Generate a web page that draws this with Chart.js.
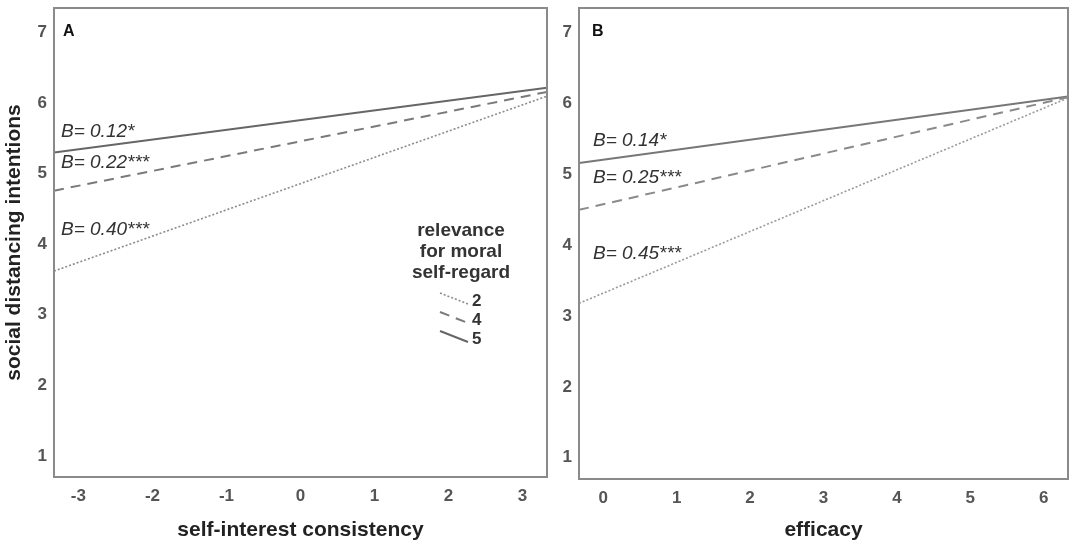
<!DOCTYPE html>
<html>
<head>
<meta charset="utf-8">
<script src="https://cdn.jsdelivr.net/npm/chart.js@4.4.1/dist/chart.umd.min.js"></script>
<style>
  html, body { margin: 0; padding: 0; background: #fff; }
  #wrap { position: relative; width: 1084px; height: 553px; overflow: hidden; }
  canvas { position: absolute; top: 0; }
  #chartA { left: 0; }
  #chartB { left: 552px; }
</style>
</head>
<body>
<div id="wrap">
  <canvas id="chartA" width="556" height="553"></canvas>
  <canvas id="chartB" width="532" height="553"></canvas>
</div>
<script>
// Panel A - self-interest consistency (line ends at the axis limits)
const xA = [-3.33, 3.33];
const aLow = [3.62, 6.10];   // relevance = 2
const aMid = [4.76, 6.16];   // relevance = 4
const aHigh = [5.30, 6.22];  // relevance = 5
const xTicksA = [-3, -2, -1, 0, 1, 2, 3];
const labelsA = ['B= 0.40***', 'B= 0.22***', 'B= 0.12*'];

// Panel B - efficacy
const xB = [-0.33, 6.33];
const bLow = [3.18, 6.08];
const bMid = [4.50, 6.09];
const bHigh = [5.16, 6.10];
const xTicksB = [0, 1, 2, 3, 4, 5, 6];
const labelsB = ['B= 0.45***', 'B= 0.25***', 'B= 0.14*'];

const yTicks = [1, 2, 3, 4, 5, 6, 7];
const legendLevels = ['2', '4', '5'];
const legendTitle = ['relevance', 'for moral', 'self-regard'];

Chart.defaults.font.family = '"Liberation Sans", Arial, sans-serif';
Chart.defaults.animation = false;

const toPoints = (xs, ys) => xs.map((x, i) => ({ x: x, y: ys[i] }));

// Box around the plot area
const frame = {
    id: 'frame',
    afterDraw(chart) {
        const { ctx, chartArea } = chart;
        ctx.save();
        ctx.strokeStyle = '#8a8a8a';
        ctx.lineWidth = 2;
        ctx.strokeRect(chartArea.left, chartArea.top, chartArea.right - chartArea.left, chartArea.bottom - chartArea.top);
        ctx.restore();
    }
};

// Panel letter and slope labels
const slopeLabels = {
    id: 'slopeLabels',
    afterDatasetsDraw(chart, args, opts) {
        const { ctx, chartArea, scales } = chart;
        ctx.save();
        ctx.fillStyle = '#111';
        ctx.font = 'bold 16px "Liberation Sans", Arial, sans-serif';
        ctx.textBaseline = 'middle';
        ctx.fillText(opts.letter, chartArea.left + opts.letterDx, chartArea.top + 24);
        ctx.fillStyle = '#333';
        ctx.font = 'italic 19px "Liberation Sans", Arial, sans-serif';
        opts.text.forEach((t, i) => {
            ctx.fillText(t, chartArea.left + opts.dx, scales.y.getPixelForValue(opts.at[i]));
        });
        ctx.restore();
    }
};

// Legend with short slanted line samples (panel A only)
const moralLegend = {
    id: 'moralLegend',
    afterDraw(chart, args, opts) {
        if (!opts.show) return;
        const { ctx, chartArea } = chart;
        const cx = chartArea.right - 86;
        ctx.save();
        ctx.fillStyle = '#333';
        ctx.font = 'bold 19px "Liberation Sans", Arial, sans-serif';
        ctx.textAlign = 'center';
        ctx.textBaseline = 'middle';
        legendTitle.forEach((t, i) => ctx.fillText(t, cx, chartArea.top + 223 + i * 21));
        ctx.textAlign = 'left';
        ctx.font = 'bold 17px "Liberation Sans", Arial, sans-serif';
        legendLevels.forEach((lv, i) => {
            const ds = chart.data.datasets[i];
            const y = chartArea.top + 293 + i * 19;
            ctx.beginPath();
            ctx.strokeStyle = ds.borderColor;
            ctx.lineWidth = ds.borderWidth;
            ctx.setLineDash(ds.borderDash || []);
            ctx.moveTo(cx - 21, y - 8);
            ctx.lineTo(cx + 7, y + 3);
            ctx.stroke();
            ctx.setLineDash([]);
            ctx.fillText(lv, cx + 11, y);
        });
        ctx.restore();
    }
};

function makePanel(canvasId, xs, low, mid, high, xTicks, cfg) {
    return new Chart(document.getElementById(canvasId).getContext('2d'), {
        type: 'line',
        data: {
            datasets: [
                { label: '2', data: toPoints(xs, low), borderColor: cfg.colors[0], borderWidth: 1.6, borderDash: [2, 2], pointRadius: 0, fill: false },
                { label: '4', data: toPoints(xs, mid), borderColor: cfg.colors[1], borderWidth: 2, borderDash: [10, 7], pointRadius: 0, fill: false },
                { label: '5', data: toPoints(xs, high), borderColor: cfg.colors[2], borderWidth: 2, pointRadius: 0, fill: false }
            ]
        },
        options: {
            responsive: false,
            devicePixelRatio: 1,
            layout: { padding: { top: 8, right: cfg.padRight, bottom: 0, left: 0 } },
            plugins: {
                legend: { display: false },
                tooltip: { enabled: false },
                slopeLabels: cfg.slope,
                moralLegend: { show: cfg.legend }
            },
            scales: {
                x: {
                    type: 'linear',
                    min: xs[0],
                    max: xs[1],
                    afterBuildTicks: s => { s.ticks = xTicks.map(v => ({ value: v })); },
                    afterFit: s => { s.height = cfg.xHeight; s.paddingLeft = 0; s.paddingRight = 0; },
                    grid: { display: false, drawTicks: false },
                    border: { display: false },
                    ticks: { padding: 9, color: '#555', font: { size: 17, weight: 'bold' }, maxRotation: 0 },
                    title: { display: true, text: cfg.xTitle, color: '#222', font: { size: 21, weight: 'bold' }, padding: { top: 0, bottom: 10 } }
                },
                y: {
                    type: 'linear',
                    min: 0.7,
                    max: 7.35,
                    afterBuildTicks: s => { s.ticks = yTicks.map(v => ({ value: v })); },
                    afterFit: s => { s.width = cfg.yWidth; s.paddingTop = 0; s.paddingBottom = 0; },
                    grid: { display: false, drawTicks: false },
                    border: { display: false },
                    ticks: { padding: 7, color: '#555', font: { size: 17, weight: 'bold' } },
                    title: { display: cfg.yTitle !== '', text: cfg.yTitle, color: '#222', font: { size: 21, weight: 'bold' }, padding: { top: 2, bottom: 0 } }
                }
            }
        },
        plugins: [frame, slopeLabels, moralLegend]
    });
}

makePanel('chartA', xA, aLow, aMid, aHigh, xTicksA, {
    colors: ['#8c8c8c', '#7a7a7a', '#666666'],
    padRight: 9,
    xHeight: 76,
    yWidth: 54,
    xTitle: 'self-interest consistency',
    yTitle: 'social distancing intentions',
    legend: true,
    slope: { letter: 'A', letterDx: 9, dx: 7, text: labelsA, at: [4.21, 5.16, 5.60] }
});

makePanel('chartB', xB, bLow, bMid, bHigh, xTicksB, {
    colors: ['#9a9a9a', '#8a8a8a', '#777777'],
    padRight: 16,
    xHeight: 74,
    yWidth: 27,
    xTitle: 'efficacy',
    yTitle: '',
    legend: false,
    slope: { letter: 'B', letterDx: 13, dx: 14, text: labelsB, at: [3.88, 4.96, 5.48] }
});
</script>
</body>
</html>
